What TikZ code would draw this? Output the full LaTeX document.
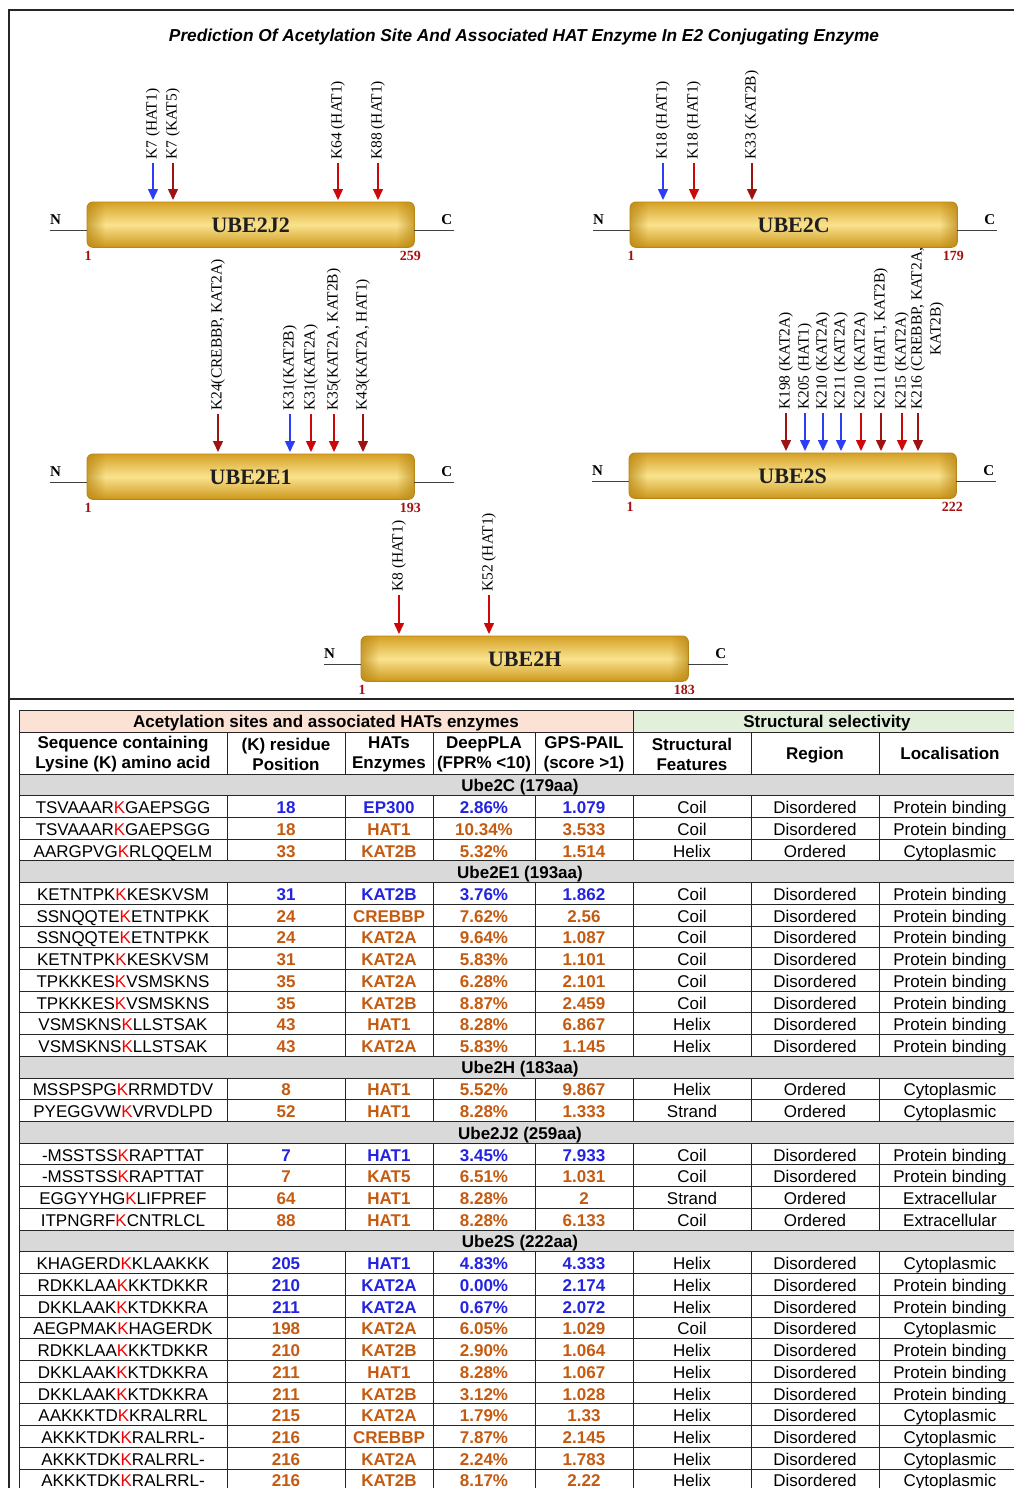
\documentclass[tikz,border=0pt]{standalone}
\usepackage{fontspec}
\setmainfont{Liberation Serif}
\newfontfamily\arialfont{Liberation Sans}
\usetikzlibrary{arrows.meta,fadings}

\definecolor{arrblue}{RGB}{45,60,245}
\definecolor{arrred}{RGB}{205,8,8}
\definecolor{arrdark}{RGB}{158,18,18}
\definecolor{numred}{RGB}{165,15,15}
\definecolor{goldA}{RGB}{214,162,40}
\definecolor{goldB}{RGB}{250,227,142}
\definecolor{goldC}{RGB}{205,152,28}
\definecolor{goldEdge}{RGB}{184,134,18}
\definecolor{hdrpeach}{RGB}{251,226,213}
\definecolor{hdrgreen}{RGB}{226,239,218}
\definecolor{grprow}{RGB}{217,217,217}
\definecolor{tblue}{RGB}{35,35,225}
\definecolor{torange}{RGB}{197,90,17}
\definecolor{kred}{RGB}{240,0,0}

\tikzset{
  frameline/.style={line width=1.8pt, draw=black!85},
  bar/.style={rectangle, minimum width=327pt, minimum height=45pt, inner sep=0pt,
    rounded corners=6pt, top color=goldA, bottom color=goldC, middle color=goldB},
  bartext/.style={font=\bfseries\fontsize{22}{24}\selectfont, text=black!88, inner sep=0pt, anchor=base},
  termline/.style={line width=1pt, draw=black!75},
  termtext/.style={font=\bfseries\fontsize{15}{17}\selectfont, inner sep=0pt},
  numtext/.style={font=\bfseries\fontsize{14}{16}\selectfont, text=numred, inner sep=0pt, anchor=north},
  klab/.style={rotate=90, anchor=west, inner sep=0pt, align=center, font=\fontsize{15.5}{19}\selectfont},
  arr/.style={line width=1.5pt, -{Triangle[width=10pt,length=11pt]}, shorten <=3pt, shorten >=2pt},
  grid/.style={line width=1pt, draw=black!85},
  cell/.style={anchor=base, inner sep=0pt, font=\arialfont\fontsize{17}{20}\selectfont},
  bcell/.style={anchor=base, inner sep=0pt, font=\arialfont\bfseries\fontsize{17}{20}\selectfont},
  titletext/.style={font=\arialfont\bfseries\itshape\fontsize{17.3}{19}\selectfont, inner sep=0pt},
}

% protein bar: name, left x, top y, label, length
\newcommand\protein[5]{%
  \node[bar, anchor=north west] (#1) at (#2,#3) {};
  \begin{scope}
    \clip[rounded corners=6pt] (#1.north west) rectangle (#1.south east);
    \fill[goldEdge, path fading=east, fill opacity=0.7] (#1.north west) rectangle ([xshift=18pt]#1.south west);
    \fill[goldEdge, path fading=west, fill opacity=0.7] ([xshift=-18pt]#1.north east) rectangle (#1.south east);
  \end{scope}
  \draw[goldEdge, line width=0.9pt, rounded corners=6pt] (#1.north west) rectangle (#1.south east);
  \node[bartext] (#1-name) at ([yshift=-8pt]#1.center) {#4};
  \coordinate (#1-l) at ([yshift=16.5pt]#1.south west);
  \coordinate (#1-r) at ([yshift=16.5pt]#1.south east);
  \node[termtext, anchor=south west] (#1-N) at ([xshift=-37pt,yshift=6pt]#1-l) {N};
  \node[termtext, anchor=south east] (#1-C) at ([xshift=38pt,yshift=6pt]#1-r) {C};
  \draw[termline] (#1-N.south west |- #1-l) -- (#1-l);
  \draw[termline] (#1-r) -- ([xshift=40pt]#1-r);
  \node[numtext] (#1-first) at ([xshift=1pt,yshift=-4pt]#1.south west) {1};
  \node[numtext] (#1-last) at ([xshift=-4pt,yshift=-4pt]#1.south east) {#5};
}

% acetylation site: name, x, label bottom y, colour, text, protein
\newcommand\site[6]{%
  \node[klab] (#1) at (#2,#3) {#5};
  \draw[arr, #4] (#1.west) -- (#1.west |- #6.north);
}

% grey group row: index, text
\newcommand\grprow[2]{%
  \pgfmathsetmacro\rowtop{774+#1*21.72}
  \filldraw[fill=grprow, grid] (19,\rowtop) rectangle (1021,{\rowtop+21.72});
  \node[bcell] (grp#1) at (520,{\rowtop+17.6}) {#2};
}

\begin{document}
\begin{tikzpicture}[x=1pt,y=-1pt]
\useasboundingbox (0,0) rectangle (1014,1488);
\fill[white] (0,0) rectangle (1014,1488);

% outer frame and divider
\draw[frameline] (9,1500) -- (9,10) -- (1030,10);
\draw[frameline, line width=1.4pt] (9,699) -- (1030,699);

\node[titletext] (title) at (524,37) {Prediction Of Acetylation Site And Associated HAT Enzyme In E2 Conjugating Enzyme};

% protein bars
\protein{j2}{87}{202}{UBE2J2}{259}
\protein{c}{630}{202}{UBE2C}{179}
\protein{e1}{87}{454}{UBE2E1}{193}
\protein{s}{629}{453}{UBE2S}{222}
\protein{h}{361}{636}{UBE2H}{183}

% UBE2J2 sites
\site{j2a}{153}{160}{arrblue}{K7 (HAT1)}{j2}
\site{j2b}{173}{160}{arrdark}{K7 (KAT5)}{j2}
\site{j2c}{338}{160}{arrred}{K64 (HAT1)}{j2}
\site{j2d}{378}{160}{arrred}{K88 (HAT1)}{j2}

% UBE2C sites
\site{ca}{663}{160}{arrblue}{K18 (HAT1)}{c}
\site{cb}{694}{160}{arrred}{K18 (HAT1)}{c}
\site{cc}{752}{160}{arrdark}{K33 (KAT2B)}{c}

% UBE2E1 sites
\site{ea}{218}{411}{arrdark}{K24(CREBBP, KAT2A)}{e1}
\site{eb}{290}{411}{arrblue}{K31(KAT2B)}{e1}
\site{ec}{311}{411}{arrred}{K31(KAT2A)}{e1}
\site{ed}{334}{411}{arrred}{K35(KAT2A, KAT2B)}{e1}
\site{ee}{363}{411}{arrdark}{K43(KAT2A, HAT1)}{e1}

% UBE2S sites
\site{sa}{786}{410}{arrdark}{K198 (KAT2A)}{s}
\site{sb}{805}{410}{arrblue}{K205 (HAT1)}{s}
\site{sc}{823}{410}{arrblue}{K210 (KAT2A)}{s}
\site{sd}{841}{410}{arrblue}{K211 (KAT2A)}{s}
\site{se}{861}{410}{arrred}{K210 (KAT2A)}{s}
\site{sf}{881}{410}{arrdark}{K211 (HAT1, KAT2B)}{s}
\site{sg}{902}{410}{arrred}{K215 (KAT2A)}{s}
\node[klab] (sh) at (927.5,410) {K216 (CREBBP, KAT2A,\\KAT2B)};
\coordinate (sh-foot) at (918,410);
\draw[arr, arrdark] (sh-foot) -- (sh-foot |- s.north);

% UBE2H sites
\site{ha}{399}{592}{arrred}{K8 (HAT1)}{h}
\site{hb}{489}{592}{arrred}{K52 (HAT1)}{h}

% ---------------- table ----------------
\fill[hdrpeach] (19,710) rectangle (633,732);
\fill[hdrgreen] (633,710) rectangle (1021,732);
\draw[grid] (19,710) rectangle (1021,732);
\draw[grid] (633,710) -- (633,732);
\node[bcell] (hdrA) at (326,727.7) {Acetylation sites and associated HATs enzymes};
\node[bcell] (hdrB) at (827,727.7) {Structural selectivity};

\draw[grid] (19,732) rectangle (1021,774);
\foreach \xx in {227,345,433,535,633,751,879} \draw[grid] (\xx,732) -- (\xx,774);
\node[bcell, anchor=center, align=center] (hseq) at (123,754) {Sequence containing\\Lysine (K) amino acid};
\node[bcell, anchor=center, align=center] (hpos) at (286,754) {(K) residue\\Position};
\node[bcell, anchor=center, align=center] (hhat) at (389,754) {HATs\\Enzymes};
\node[bcell, anchor=center, align=center] (hdeep) at (484,754) {DeepPLA\\(FPR\% <10)};
\node[bcell, anchor=center, align=center] (hgps) at (584,754) {GPS-PAIL\\(score >1)};
\node[bcell, anchor=center, align=center] (hfeat) at (692,754) {Structural\\Features};
\node[bcell] (hreg) at (815,759) {Region};
\node[bcell] (hloc) at (950,759) {Localisation};

\grprow{0}{Ube2C (179aa)}
\grprow{4}{Ube2E1 (193aa)}
\grprow{13}{Ube2H (183aa)}
\grprow{16}{Ube2J2 (259aa)}
\grprow{21}{Ube2S (222aa)}

\foreach \Qa/\Qb/\Qc/\Qd/\Qe/\Qf/\Qg/\Qh/\Qi/\Qj/\Qk in {
  1/TSVAAAR/GAEPSGG/tblue/18/EP300/2.86\%/1.079/Coil/Disordered/Protein binding,
  2/TSVAAAR/GAEPSGG/torange/18/HAT1/10.34\%/3.533/Coil/Disordered/Protein binding,
  3/AARGPVG/RLQQELM/torange/33/KAT2B/5.32\%/1.514/Helix/Ordered/Cytoplasmic,
  5/KETNTPK/KESKVSM/tblue/31/KAT2B/3.76\%/1.862/Coil/Disordered/Protein binding,
  6/SSNQQTE/ETNTPKK/torange/24/CREBBP/7.62\%/2.56/Coil/Disordered/Protein binding,
  7/SSNQQTE/ETNTPKK/torange/24/KAT2A/9.64\%/1.087/Coil/Disordered/Protein binding,
  8/KETNTPK/KESKVSM/torange/31/KAT2A/5.83\%/1.101/Coil/Disordered/Protein binding,
  9/TPKKKES/VSMSKNS/torange/35/KAT2A/6.28\%/2.101/Coil/Disordered/Protein binding,
  10/TPKKKES/VSMSKNS/torange/35/KAT2B/8.87\%/2.459/Coil/Disordered/Protein binding,
  11/VSMSKNS/LLSTSAK/torange/43/HAT1/8.28\%/6.867/Helix/Disordered/Protein binding,
  12/VSMSKNS/LLSTSAK/torange/43/KAT2A/5.83\%/1.145/Helix/Disordered/Protein binding,
  14/MSSPSPG/RRMDTDV/torange/8/HAT1/5.52\%/9.867/Helix/Ordered/Cytoplasmic,
  15/PYEGGVW/VRVDLPD/torange/52/HAT1/8.28\%/1.333/Strand/Ordered/Cytoplasmic,
  17/-MSSTSS/RAPTTAT/tblue/7/HAT1/3.45\%/7.933/Coil/Disordered/Protein binding,
  18/-MSSTSS/RAPTTAT/torange/7/KAT5/6.51\%/1.031/Coil/Disordered/Protein binding,
  19/EGGYYHG/LIFPREF/torange/64/HAT1/8.28\%/2/Strand/Ordered/Extracellular,
  20/ITPNGRF/CNTRLCL/torange/88/HAT1/8.28\%/6.133/Coil/Ordered/Extracellular,
  22/KHAGERD/KLAAKKK/tblue/205/HAT1/4.83\%/4.333/Helix/Disordered/Cytoplasmic,
  23/RDKKLAA/KKTDKKR/tblue/210/KAT2A/0.00\%/2.174/Helix/Disordered/Protein binding,
  24/DKKLAAK/KTDKKRA/tblue/211/KAT2A/0.67\%/2.072/Helix/Disordered/Protein binding,
  25/AEGPMAK/HAGERDK/torange/198/KAT2A/6.05\%/1.029/Coil/Disordered/Cytoplasmic,
  26/RDKKLAA/KKTDKKR/torange/210/KAT2B/2.90\%/1.064/Helix/Disordered/Protein binding,
  27/DKKLAAK/KTDKKRA/torange/211/HAT1/8.28\%/1.067/Helix/Disordered/Protein binding,
  28/DKKLAAK/KTDKKRA/torange/211/KAT2B/3.12\%/1.028/Helix/Disordered/Protein binding,
  29/AAKKKTD/KRALRRL/torange/215/KAT2A/1.79\%/1.33/Helix/Disordered/Cytoplasmic,
  30/AKKKTDK/RALRRL-/torange/216/CREBBP/7.87\%/2.145/Helix/Disordered/Cytoplasmic,
  31/AKKKTDK/RALRRL-/torange/216/KAT2A/2.24\%/1.783/Helix/Disordered/Cytoplasmic,
  32/AKKKTDK/RALRRL-/torange/216/KAT2B/8.17\%/2.22/Helix/Disordered/Cytoplasmic}{
  \pgfmathsetmacro\rowtop{774+\Qa*21.72}
  \pgfmathsetmacro\rowbot{\rowtop+21.72}
  \pgfmathsetmacro\rowbase{\rowtop+17.9}
  \draw[grid] (19,\rowtop) rectangle (1021,\rowbot);
  \foreach \xx in {227,345,433,535,633,751,879} \draw[grid] (\xx,\rowtop) -- (\xx,\rowbot);
  \node[cell] (seq\Qa) at (123,\rowbase) {\Qb\textcolor{kred}{K}\Qc};
  \node[bcell, text=\Qd] (pos\Qa) at (286,\rowbase) {\Qe};
  \node[bcell, text=\Qd] (hat\Qa) at (389,\rowbase) {\Qf};
  \node[bcell, text=\Qd] (dpl\Qa) at (484,\rowbase) {\Qg};
  \node[bcell, text=\Qd] (gps\Qa) at (584,\rowbase) {\Qh};
  \node[cell] (fea\Qa) at (692,\rowbase) {\Qi};
  \node[cell] (reg\Qa) at (815,\rowbase) {\Qj};
  \node[cell] (loc\Qa) at (950,\rowbase) {\Qk};
}
\end{tikzpicture}
\end{document}
